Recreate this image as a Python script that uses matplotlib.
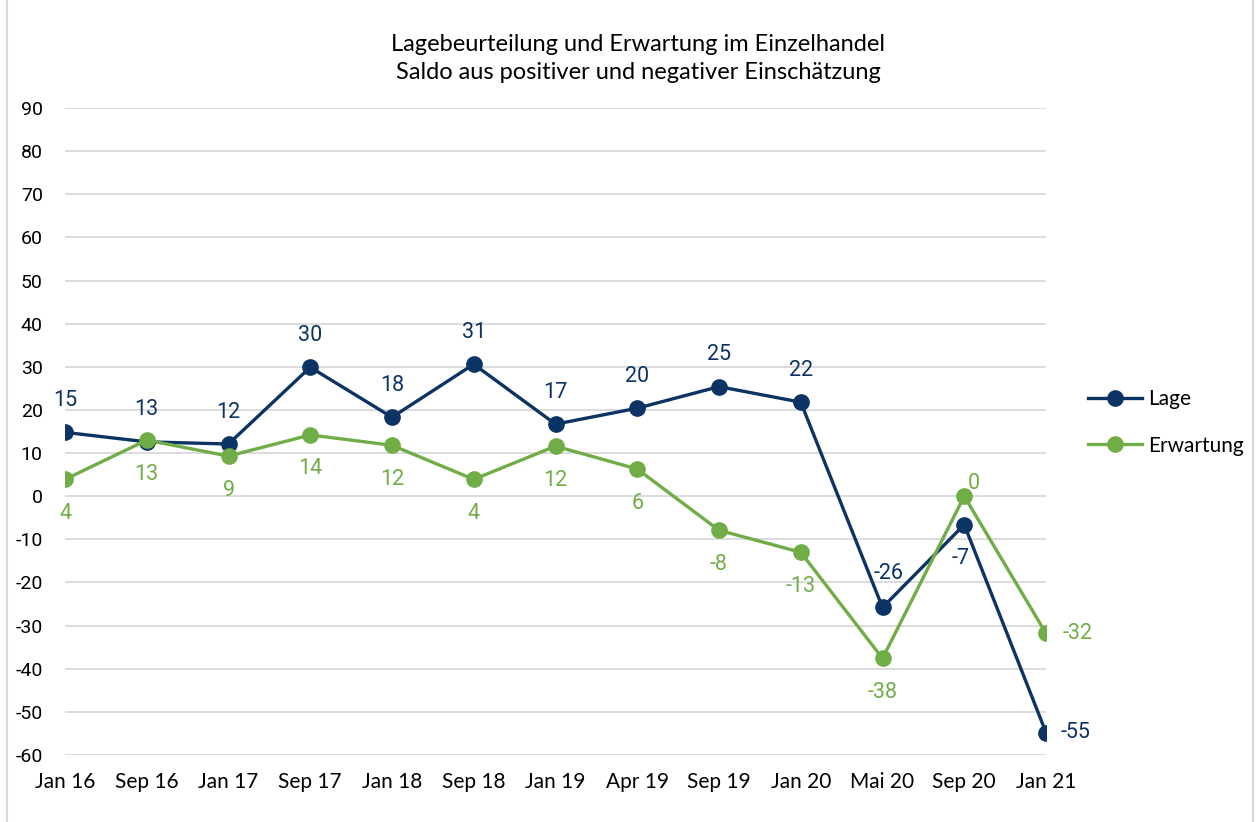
import matplotlib
matplotlib.use("Agg")
import matplotlib.pyplot as plt
from matplotlib.patches import Rectangle

plt.rcParams['axes.unicode_minus'] = False

categories = ["Jan 16", "Sep 16", "Jan 17", "Sep 17", "Jan 18", "Sep 18", "Jan 19",
              "Apr 19", "Sep 19", "Jan 20", "Mai 20", "Sep 20", "Jan 21"]
lage = [14.8, 12.6, 12.1, 29.9, 18.3, 30.6, 16.7, 20.4, 25.4, 21.8, -25.8, -6.6, -54.8]
erwartung = [3.9, 13.0, 9.3, 14.2, 11.8, 3.9, 11.6, 6.3, -7.9, -13.0, -37.6, 0.0, -31.8]
yticks = list(range(-60, 91, 10))

title = "Lagebeurteilung und Erwartung im Einzelhandel\nSaldo aus positiver und negativer Einschätzung"

c_lage = "#0b3363"
c_erw = "#70ad47"
label_font = "Lato"
num_font = "Roboto"
PX = 0.72  # points per pixel at 100 dpi

fig = plt.figure(figsize=(12.58, 8.22), dpi=100)
fig.patches.append(Rectangle((7/1258, -0.01), 1246/1258, 1.02, transform=fig.transFigure,
                             fill=False, edgecolor="#d9d9d9", linewidth=1.5))
ax = fig.add_axes([65/1258, 1 - 755/822, 981/1258, 647/822])

x = list(range(len(categories)))
ax.plot(x, lage, color=c_lage, lw=2.4, marker="o", ms=11, label="Lage", zorder=3)
ax.plot(x, erwartung, color=c_erw, lw=2.4, marker="o", ms=11, label="Erwartung", zorder=3)

ax.set_xlim(0, len(categories) - 1)
ax.set_ylim(-60, 90)
ax.set_yticks(yticks)
ax.set_yticklabels([str(v) for v in yticks], fontfamily=num_font, fontsize=14)
ax.set_xticks(x)
ax.set_xticklabels(categories, fontfamily=label_font, fontsize=15)
ax.tick_params(axis="both", length=0)
ax.tick_params(axis="y", pad=16)
ax.tick_params(axis="x", pad=12)
for s in ax.spines.values():
    s.set_visible(False)
ax.grid(axis="y", color="#d9d9d9", lw=1.3)
ax.set_axisbelow(True)

# data label offsets in pixels (dx, dy) with dy positive = up
lage_off = {i: (0, 32) for i in range(len(categories))}
lage_off[10] = (6, 34)
lage_off[11] = (-4, -34)
lage_off[12] = (15, 0)
erw_off = {i: (0, -34) for i in range(len(categories))}
erw_off[11] = (10, 13)
erw_off[12] = (17, 0)

def put_labels(vals, offs, color):
    for i, v in enumerate(vals):
        dx, dy = offs[i]
        ha = "left" if dx > 12 else "center"
        ax.annotate(str(int(round(v))), (i, v), xytext=(dx * PX, dy * PX),
                    textcoords="offset points", ha=ha, va="center", color=color,
                    fontsize=15.5, fontfamily=num_font)

put_labels(lage, lage_off, c_lage)
put_labels(erwartung, erw_off, c_erw)

fig.text(638/1258, 1 - 58.5/822, title, ha="center", va="center", fontsize=17,
         fontfamily=label_font, linespacing=1.4)

ax.legend(loc="center left", bbox_to_anchor=((1088 - 65) / 981, (755 - 422.5) / 647),
          frameon=False, prop={"family": label_font, "size": 15}, handlelength=2.6,
          labelspacing=1.25, handletextpad=0.3, borderpad=0, borderaxespad=0)

fig.savefig("out.png", dpi=100)
